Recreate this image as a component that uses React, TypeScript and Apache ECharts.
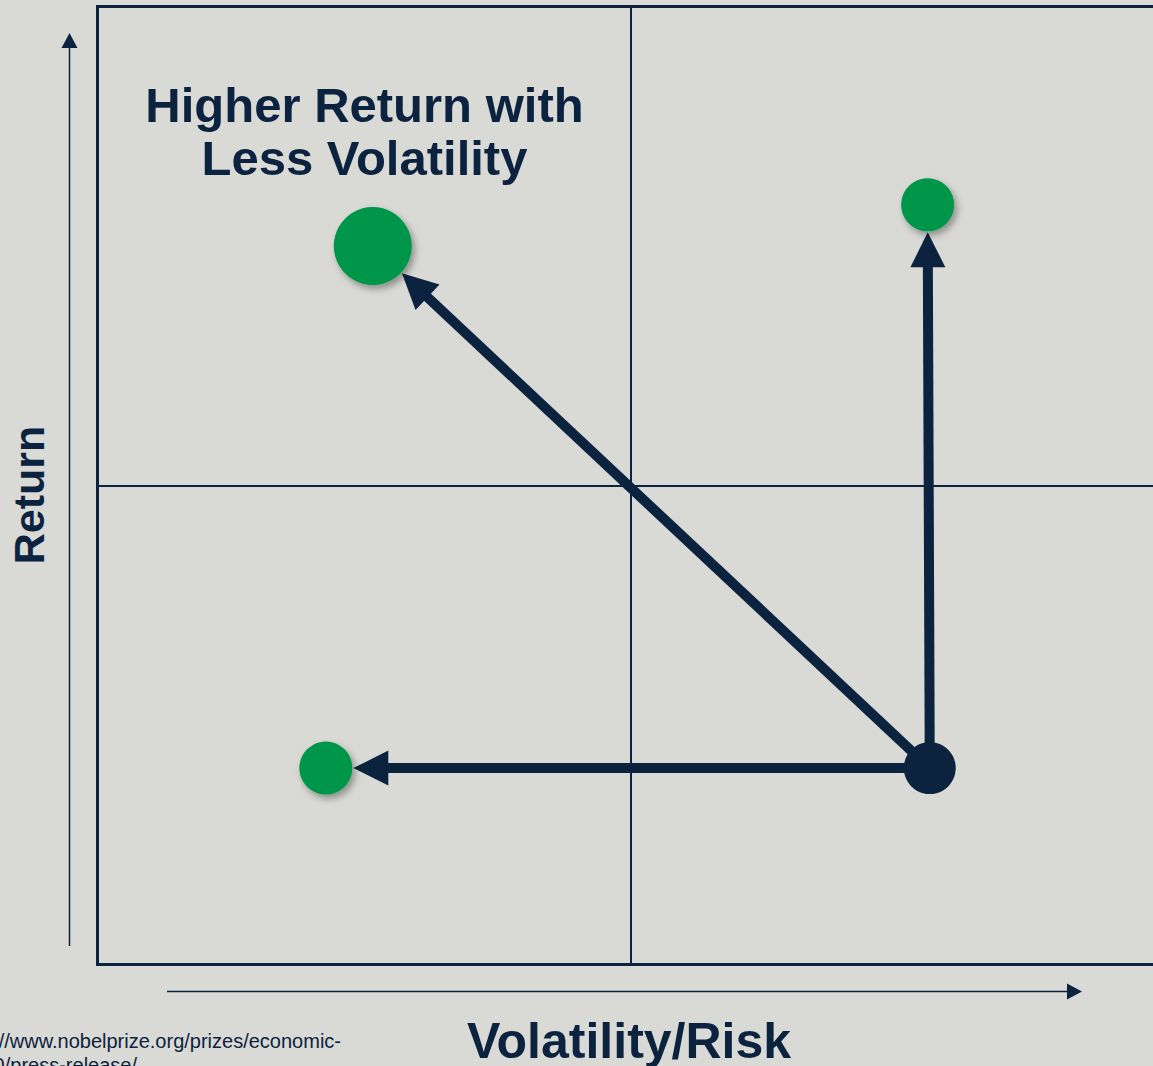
import React, { useEffect, useRef } from "react";
import * as echarts from "echarts";

// ---- data ----
const pointNames = ["Starting Portfolio", "Higher Return", "Higher Return with Less Volatility", "Less Volatility"];
const volatility = [7.8, 7.78, 2.58, 2.14];
const returns = [2.05, 7.93, 7.5, 2.05];
const arrowFrom = [0, 0, 0];
const arrowTo = [1, 2, 3];
const xTicks = [0, 5, 10];
const yTicks = [0, 5, 10];
const titleLines = ["Higher Return with", "Less Volatility"];
const xAxisTitle = "Volatility/Risk";
const yAxisTitle = "Return";
const sourceLines = ["https://www.nobelprize.org/prizes/economic-", "sciences/1990/press-release/"];

// ---- styles ----
const NAVY = "#0c2340";
const GREEN = "#00964a";
const BG = "#d9d9d5";
const FONT = "'Liberation Sans', Arial, Helvetica, sans-serif";
const symbolSizes = [52, 53, 78, 53];

export default function App() {
  const ref = useRef<HTMLDivElement>(null);
  useEffect(() => {
    if (!ref.current) return;
    const chart = echarts.init(ref.current, null, { renderer: "svg" });

    const scatterData = volatility.map((v, i) => ({
      name: pointNames[i],
      value: [v, returns[i]],
      symbolSize: symbolSizes[i],
      itemStyle:
        i === 0
          ? { color: NAVY, opacity: 1, shadowBlur: 0, shadowColor: "transparent" }
          : {
              color: GREEN,
              opacity: 1,
              shadowBlur: 7,
              shadowOffsetX: 3,
              shadowOffsetY: 4,
              shadowColor: "rgba(0,0,0,0.35)",
            },
    }));

    const arrowData = arrowFrom.map((f, i) => {
      const t = arrowTo[i];
      return [volatility[f], returns[f], volatility[t], returns[t], symbolSizes[t] / 2];
    });

    const renderArrow = (params: any, api: any) => {
      const p1 = api.coord([api.value(0), api.value(1)]);
      const p2 = api.coord([api.value(2), api.value(3)]);
      const r = api.value(4);
      const dx = p2[0] - p1[0];
      const dy = p2[1] - p1[1];
      const len = Math.sqrt(dx * dx + dy * dy);
      const ux = dx / len;
      const uy = dy / len;
      const nx = -uy;
      const ny = ux;
      const headLen = 35;
      const headHalf = 17.5;
      const tip = [p2[0] - ux * (r + 1), p2[1] - uy * (r + 1)];
      const base = [tip[0] - ux * headLen, tip[1] - uy * headLen];
      return {
        type: "group",
        children: [
          {
            type: "line",
            shape: { x1: p1[0], y1: p1[1], x2: base[0] + ux * 2, y2: base[1] + uy * 2 },
            style: { stroke: NAVY, lineWidth: 10, lineCap: "butt" },
          },
          {
            type: "polygon",
            shape: {
              points: [
                tip,
                [base[0] + nx * headHalf, base[1] + ny * headHalf],
                [base[0] - nx * headHalf, base[1] - ny * headHalf],
              ],
            },
            style: { fill: NAVY },
          },
        ],
      };
    };

    const option: any = {
      animation: false,
      backgroundColor: BG,
      grid: {
        left: 97.5,
        top: 6.5,
        width: 1067,
        height: 958,
        show: true,
        borderColor: NAVY,
        borderWidth: 3,
        backgroundColor: "transparent",
        containLabel: false,
      },
      xAxis: {
        type: "value",
        min: xTicks[0],
        max: xTicks[xTicks.length - 1],
        interval: xTicks[1] - xTicks[0],
        axisLine: { show: false },
        axisTick: { show: false },
        axisLabel: { show: false },
        splitLine: { show: true, lineStyle: { color: NAVY, width: 2 } },
      },
      yAxis: {
        type: "value",
        min: yTicks[0],
        max: yTicks[yTicks.length - 1],
        interval: yTicks[1] - yTicks[0],
        axisLine: { show: false },
        axisTick: { show: false },
        axisLabel: { show: false },
        splitLine: { show: true, lineStyle: { color: NAVY, width: 2 } },
      },
      series: [
        {
          type: "custom",
          renderItem: renderArrow,
          data: arrowData,
          z: 2,
          silent: true,
        },
        {
          type: "scatter",
          data: scatterData,
          z: 3,
          silent: true,
        },
      ],
      graphic: [
        // y-axis decorative arrow
        {
          type: "line",
          shape: { x1: 69.5, y1: 946, x2: 69.5, y2: 46 },
          style: { stroke: NAVY, lineWidth: 1.5 },
        },
        {
          type: "polygon",
          shape: { points: [[69.5, 33], [61.5, 48], [77.5, 48]] },
          style: { fill: NAVY },
        },
        // x-axis decorative arrow
        {
          type: "line",
          shape: { x1: 167, y1: 991.5, x2: 1069, y2: 991.5 },
          style: { stroke: NAVY, lineWidth: 1.5 },
        },
        {
          type: "polygon",
          shape: { points: [[1082, 991.5], [1067, 983.5], [1067, 999.5]] },
          style: { fill: NAVY },
        },
        // title
        {
          type: "text",
          x: 364.5,
          y: 105,
          style: {
            text: titleLines[0],
            fill: NAVY,
            font: `bold 49px ${FONT}`,
            textAlign: "center",
            textVerticalAlign: "middle",
          },
        },
        {
          type: "text",
          x: 364.5,
          y: 158,
          style: {
            text: titleLines[1],
            fill: NAVY,
            font: `bold 49px ${FONT}`,
            textAlign: "center",
            textVerticalAlign: "middle",
          },
        },
        // axis titles
        {
          type: "text",
          x: 629,
          y: 1041,
          style: {
            text: xAxisTitle,
            fill: NAVY,
            font: `bold 50px ${FONT}`,
            textAlign: "center",
            textVerticalAlign: "middle",
          },
        },
        {
          type: "text",
          x: 29,
          y: 495,
          rotation: Math.PI / 2,
          style: {
            text: yAxisTitle,
            fill: NAVY,
            font: `bold 43px ${FONT}`,
            textAlign: "center",
            textVerticalAlign: "middle",
          },
        },
        // source
        {
          type: "text",
          x: 341,
          y: 1041,
          style: {
            text: sourceLines[0],
            fill: NAVY,
            font: `20px ${FONT}`,
            textAlign: "right",
            textVerticalAlign: "middle",
          },
        },
        {
          type: "text",
          x: 137,
          y: 1065,
          style: {
            text: sourceLines[1],
            fill: NAVY,
            font: `20px ${FONT}`,
            textAlign: "right",
            textVerticalAlign: "middle",
          },
        },
      ],
    };

    chart.setOption(option);
    return () => chart.dispose();
  }, []);

  return (
    <div style={{ position: "absolute", left: 0, top: 0, width: 1153, height: 1066, overflow: "hidden" }}>
      <div ref={ref} style={{ width: 1180, height: 1066 }} />
    </div>
  );
}
